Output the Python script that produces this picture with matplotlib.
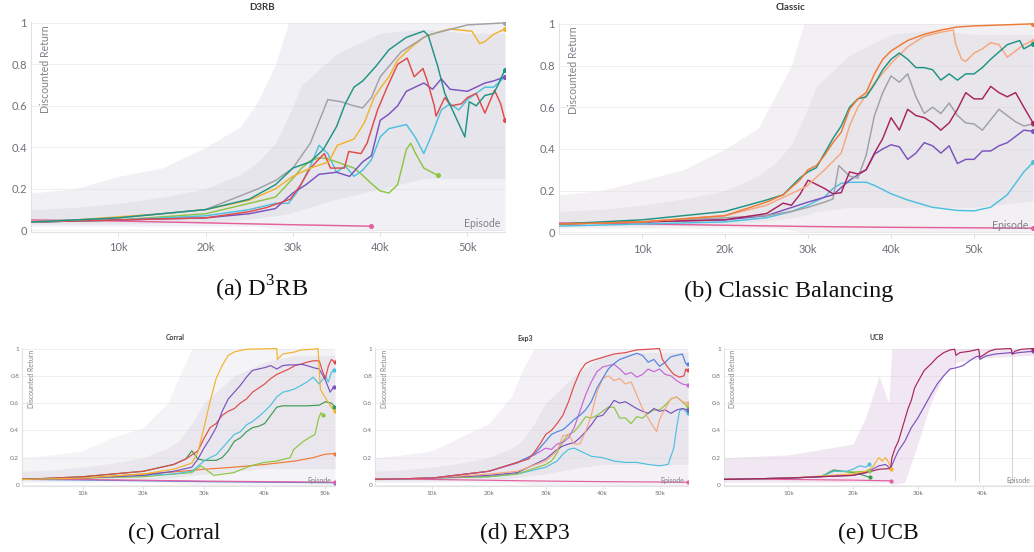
import numpy as np
import matplotlib
matplotlib.use("Agg")
import matplotlib.pyplot as plt

plt.rcParams["mathtext.fontset"] = "custom"
plt.rcParams["mathtext.rm"] = "Liberation Serif"

W, H = 1034, 552

# ---------------- colours ----------------
C_TEAL = "#1f9483"
C_GRAY = "#a0a0a8"
C_GOLD = "#f2b22c"
C_RED = "#e04a4a"
C_PURPLE = "#7b52be"
C_CYAN = "#4cc0de"
C_LIME = "#8cc540"
C_PINK = "#e4609c"
C_ORANGE = "#f07a34"
C_SALMON = "#f7a77c"
C_CRIMSON = "#a8245e"
C_BLUE = "#5083de"
C_ORCHID = "#c865d8"
C_GREEN = "#3c9a50"
C_FLATBLUE = "#5a7fe0"

# ---------------- (a) D3RB data (x in thousands of episodes) ----------------
d3rb_band_x = [0, 5, 10, 15, 20, 24, 26, 28, 29.5, 31, 35, 40, 45, 50, 54.3]
d3rb_band_hi = [0.18, 0.2, 0.26, 0.3, 0.4, 0.5, 0.62, 0.8, 1.0, 1.0, 1.0, 1.0, 1.0, 1.0, 1.0]
d3rb_band_lo = [0.02, 0.02, 0.02, 0.02, 0.02, 0.02, 0.02, 0.01, 0.0, 0.0, 0.0, 0.0, 0.0, 0.0, 0.0]
d3rb_core_hi = [0.1, 0.11, 0.13, 0.16, 0.2, 0.27, 0.33, 0.42, 0.55, 0.7, 0.85, 0.95, 0.97, 0.95, 0.95]
d3rb_core_lo = [0.03, 0.03, 0.03, 0.035, 0.04, 0.05, 0.06, 0.07, 0.08, 0.1, 0.15, 0.2, 0.25, 0.25, 0.25]

d3rb_gray_x = [0, 5, 10, 15, 20, 23, 26, 28, 30, 32, 34, 35.5, 37, 38, 39, 40, 42.4, 45.4, 50, 54.3]
d3rb_gray_y = [0.04, 0.05, 0.06, 0.08, 0.1, 0.15, 0.2, 0.24, 0.3, 0.42, 0.63, 0.62, 0.6, 0.59, 0.64, 0.74, 0.86, 0.94, 0.99, 1.0]
d3rb_teal_x = [0, 5, 10, 15, 20, 25, 28, 30, 32, 33.5, 35, 36, 37, 38, 39.5, 41, 43, 45, 45.5, 46.6, 47.4, 48.5, 49.7, 50.2, 51, 52, 53, 53.5, 54.3]
d3rb_teal_y = [0.04, 0.05, 0.06, 0.08, 0.1, 0.15, 0.22, 0.3, 0.33, 0.39, 0.5, 0.61, 0.69, 0.72, 0.79, 0.87, 0.93, 0.96, 0.94, 0.79, 0.66, 0.56, 0.45, 0.62, 0.6, 0.65, 0.66, 0.7, 0.775]
d3rb_gold_x = [0, 5, 10, 15, 20, 25, 28, 30, 32, 34.1, 35.1, 37, 38.2, 39.3, 40.1, 41, 42, 43.5, 45, 47, 48, 50.5, 51.4, 52, 53, 54.3]
d3rb_gold_y = [0.04, 0.05, 0.065, 0.08, 0.1, 0.145, 0.2, 0.26, 0.3, 0.33, 0.41, 0.44, 0.52, 0.64, 0.69, 0.74, 0.82, 0.88, 0.93, 0.96, 0.97, 0.96, 0.9, 0.91, 0.945, 0.97]
d3rb_red_x = [0, 10, 20, 25, 27, 29.7, 30.9, 32, 33.6, 34.3, 35.9, 36.4, 37.8, 38.5, 39.7, 40.8, 42, 43.1, 43.9, 44.9, 45.4, 46.2, 46.4, 47.4, 48.1, 49.3, 50, 51, 52, 53.1, 53.8, 54.3]
d3rb_red_y = [0.04, 0.05, 0.06, 0.09, 0.11, 0.15, 0.22, 0.3, 0.37, 0.3, 0.3, 0.38, 0.37, 0.42, 0.58, 0.69, 0.8, 0.83, 0.74, 0.78, 0.72, 0.6, 0.55, 0.64, 0.6, 0.61, 0.64, 0.66, 0.565, 0.675, 0.61, 0.53]
d3rb_purple_x = [0, 10, 20, 25, 28, 30, 31.5, 33, 35, 36.5, 38, 39, 40, 41, 42, 43, 45, 46, 47, 48, 50, 52, 53, 54.3]
d3rb_purple_y = [0.04, 0.05, 0.06, 0.08, 0.105, 0.18, 0.22, 0.27, 0.28, 0.26, 0.33, 0.36, 0.53, 0.56, 0.6, 0.67, 0.71, 0.68, 0.73, 0.68, 0.67, 0.71, 0.72, 0.74]
d3rb_cyan_x = [0, 10, 20, 25, 28, 29.5, 30.5, 32, 33, 34, 35, 36, 37, 38, 39, 40, 41, 42, 43, 44, 45, 46, 47, 48, 49, 50, 51, 52, 53, 54.3]
d3rb_cyan_y = [0.04, 0.05, 0.07, 0.1, 0.13, 0.13, 0.185, 0.31, 0.41, 0.37, 0.28, 0.31, 0.26, 0.29, 0.34, 0.45, 0.49, 0.5, 0.51, 0.45, 0.37, 0.47, 0.58, 0.61, 0.58, 0.63, 0.66, 0.69, 0.69, 0.74]
d3rb_lime_x = [0, 10, 20, 25, 28, 30, 31, 32, 33, 34, 35, 37, 38, 39, 40, 41, 42, 43, 43.5, 44, 45, 46.6]
d3rb_lime_y = [0.04, 0.05, 0.08, 0.13, 0.16, 0.25, 0.3, 0.335, 0.35, 0.345, 0.33, 0.3, 0.265, 0.225, 0.19, 0.18, 0.22, 0.39, 0.42, 0.375, 0.3, 0.265]
d3rb_pink_x = [0, 10, 20, 30, 38.9]
d3rb_pink_y = [0.05, 0.045, 0.036, 0.027, 0.02]

# ---------------- (b) Classic data ----------------
cls_band_x = [0, 5, 10, 15, 20, 24, 26, 28, 29.5, 31, 35, 40, 45, 50, 57.1]
cls_band_hi = [0.18, 0.2, 0.25, 0.3, 0.4, 0.5, 0.65, 0.8, 1.0, 1.0, 1.0, 1.0, 1.0, 1.0, 1.0]
cls_band_lo = [0.02, 0.02, 0.02, 0.02, 0.02, 0.02, 0.02, 0.01, 0.0, 0.0, 0.0, 0.0, 0.0, 0.0, 0.0]
cls_core_hi = [0.1, 0.11, 0.13, 0.16, 0.2, 0.27, 0.33, 0.42, 0.55, 0.7, 0.85, 0.95, 0.97, 0.95, 0.95]
cls_core_lo = [0.03, 0.03, 0.03, 0.035, 0.04, 0.05, 0.06, 0.07, 0.08, 0.1, 0.12, 0.12, 0.12, 0.12, 0.15]

cls_orange_x = [0, 10, 20, 25, 27, 29, 30, 31, 32, 33, 34, 35, 36, 37, 38, 39, 40, 42, 44, 46, 48, 50, 57.1]
cls_orange_y = [0.04, 0.05, 0.08, 0.145, 0.18, 0.25, 0.3, 0.32, 0.37, 0.43, 0.48, 0.59, 0.64, 0.67, 0.76, 0.83, 0.87, 0.92, 0.95, 0.97, 0.985, 0.99, 1.0]
cls_salmon_x = [0, 10, 20, 25, 29.8, 32, 34, 35, 36, 38, 40, 42, 44, 46, 47.5, 47.8, 48.5, 49, 50, 51, 52, 53, 54, 55, 56, 57.1]
cls_salmon_y = [0.04, 0.05, 0.08, 0.13, 0.22, 0.3, 0.38, 0.51, 0.6, 0.715, 0.81, 0.89, 0.94, 0.96, 0.97, 0.9, 0.83, 0.82, 0.86, 0.88, 0.91, 0.9, 0.84, 0.87, 0.9, 0.92]
cls_teal_x = [0, 10, 20, 25, 27, 29, 30, 31, 32, 33, 34, 35, 36, 37, 38, 39, 40, 41, 42, 43, 44, 45, 46, 47, 48, 49, 50, 51, 52, 53, 54, 55.5, 56, 57.1]
cls_teal_y = [0.04, 0.06, 0.1, 0.155, 0.18, 0.26, 0.29, 0.31, 0.38, 0.45, 0.51, 0.6, 0.64, 0.65, 0.71, 0.78, 0.83, 0.86, 0.83, 0.79, 0.79, 0.78, 0.73, 0.76, 0.73, 0.76, 0.76, 0.79, 0.83, 0.865, 0.9, 0.92, 0.88, 0.905]
cls_gray_x = [0, 10, 20, 25, 28, 30, 32, 33, 33.7, 35, 36, 37, 38, 39, 40, 41, 42, 43, 44, 45, 46, 47, 48, 49, 50, 51, 52, 53, 54, 55, 56, 57.1]
cls_gray_y = [0.04, 0.05, 0.07, 0.08, 0.1, 0.12, 0.145, 0.16, 0.32, 0.27, 0.26, 0.37, 0.56, 0.67, 0.75, 0.72, 0.76, 0.65, 0.57, 0.6, 0.57, 0.62, 0.56, 0.525, 0.52, 0.49, 0.54, 0.59, 0.56, 0.53, 0.51, 0.52]
cls_crimson_x = [0, 10, 20, 25, 27, 28, 29, 30, 31, 32, 33, 34, 35, 36, 37, 38, 39, 40, 41, 42, 43, 44, 45, 46, 47, 48, 49, 50, 51, 52, 53, 54, 55, 56, 57.1]
cls_crimson_y = [0.04, 0.05, 0.06, 0.09, 0.14, 0.13, 0.18, 0.25, 0.23, 0.21, 0.185, 0.19, 0.29, 0.28, 0.3, 0.38, 0.45, 0.55, 0.49, 0.59, 0.56, 0.55, 0.525, 0.49, 0.525, 0.59, 0.67, 0.64, 0.64, 0.7, 0.67, 0.65, 0.67, 0.6, 0.525]
cls_purple_x = [0, 10, 20, 25, 30, 33, 35, 37, 38, 39, 40, 41, 42, 43, 44, 45, 46, 47, 48, 49, 50, 51, 52, 53, 54, 55, 56, 57.1]
cls_purple_y = [0.04, 0.05, 0.06, 0.08, 0.145, 0.18, 0.25, 0.3, 0.375, 0.4, 0.42, 0.41, 0.35, 0.38, 0.43, 0.415, 0.38, 0.415, 0.33, 0.35, 0.35, 0.39, 0.39, 0.415, 0.43, 0.46, 0.49, 0.485]
cls_cyan_x = [0, 10, 20, 25, 28, 30, 32, 33, 34, 35, 37, 38, 40, 42, 45, 48, 50, 52, 54, 56, 57.1]
cls_cyan_y = [0.03, 0.04, 0.05, 0.07, 0.1, 0.13, 0.17, 0.21, 0.235, 0.24, 0.24, 0.225, 0.185, 0.155, 0.12, 0.105, 0.103, 0.12, 0.18, 0.29, 0.335]
cls_pink_x = [0, 10, 20, 30, 40, 57.1]
cls_pink_y = [0.045, 0.04, 0.034, 0.028, 0.024, 0.02]

# ---------------- (c) Corral data ----------------
cor_band_x = [0, 5, 10, 15, 20, 24, 26, 28, 30, 35, 40, 45, 51.6]
cor_band_hi = [0.2, 0.22, 0.25, 0.35, 0.42, 0.6, 0.8, 1.0, 1.0, 1.0, 1.0, 1.0, 1.0]
cor_band_lo = [0.02, 0.02, 0.02, 0.02, 0.02, 0.02, 0.01, 0.0, 0.0, 0.0, 0.0, 0.0, 0.0]
cor_core_hi = [0.1, 0.11, 0.13, 0.16, 0.2, 0.27, 0.33, 0.45, 0.6, 0.8, 0.9, 0.95, 0.95]
cor_core_lo = [0.03, 0.03, 0.03, 0.035, 0.04, 0.05, 0.06, 0.07, 0.08, 0.1, 0.12, 0.12, 0.12]

cor_gold_x = [0, 10, 20, 25, 28, 29, 30, 31, 32, 33, 34, 35, 37, 42, 42.1, 43, 45, 46, 48, 48.8, 49.2, 50, 51, 51.6]
cor_gold_y = [0.04, 0.05, 0.08, 0.115, 0.16, 0.24, 0.42, 0.61, 0.78, 0.875, 0.95, 0.975, 0.995, 1.0, 0.92, 0.96, 0.975, 0.99, 0.995, 1.0, 0.7, 0.64, 0.57, 0.54]
cor_purple_x = [0, 10, 20, 25, 28, 29, 30, 31, 32, 33, 34, 35, 36, 37, 38, 39, 40, 41, 42, 43, 44, 45, 46, 47, 48, 49, 50, 50.8, 51.4]
cor_purple_y = [0.04, 0.05, 0.07, 0.1, 0.13, 0.19, 0.27, 0.34, 0.42, 0.54, 0.63, 0.68, 0.73, 0.79, 0.84, 0.85, 0.86, 0.875, 0.85, 0.875, 0.88, 0.88, 0.885, 0.875, 0.86, 0.85, 0.77, 0.68, 0.72]
cor_red_x = [0, 10, 20, 25, 27, 28, 29, 30, 31, 32, 33, 34, 35, 36, 37, 38, 39, 40, 41, 42, 43, 44, 45, 46, 47, 48, 49, 49.5, 50, 50.5, 51, 51.6]
cor_red_y = [0.04, 0.06, 0.1, 0.15, 0.19, 0.22, 0.25, 0.34, 0.42, 0.45, 0.51, 0.54, 0.56, 0.6, 0.63, 0.68, 0.71, 0.74, 0.78, 0.81, 0.83, 0.85, 0.875, 0.885, 0.9, 0.91, 0.91, 0.84, 0.78, 0.87, 0.92, 0.9]
cor_cyan_x = [0, 10, 20, 25, 28, 30, 31, 32, 33, 34, 35, 36, 37, 38, 39, 40, 41, 42, 43, 44, 45, 46, 47, 48, 49, 50, 50.5, 51, 51.5]
cor_cyan_y = [0.04, 0.05, 0.07, 0.08, 0.1, 0.175, 0.2, 0.22, 0.27, 0.32, 0.37, 0.39, 0.44, 0.465, 0.5, 0.54, 0.585, 0.645, 0.68, 0.69, 0.705, 0.73, 0.755, 0.79, 0.74, 0.8, 0.755, 0.825, 0.84]
cor_green_x = [0, 10, 20, 25, 27, 28, 29, 30, 32, 33, 34, 35, 36, 37, 38, 39, 40, 41, 42, 43, 45, 47, 49, 50, 51, 51.5]
cor_green_y = [0.04, 0.06, 0.1, 0.15, 0.19, 0.25, 0.19, 0.18, 0.18, 0.2, 0.25, 0.32, 0.345, 0.39, 0.42, 0.43, 0.45, 0.51, 0.57, 0.58, 0.58, 0.58, 0.585, 0.61, 0.6, 0.575]
cor_lime_x = [0, 10, 20, 25, 28, 29.5, 31.6, 34.9, 37.7, 39.9, 42, 44.2, 44.8, 46.4, 47.5, 48.3, 48.9, 49.3, 49.7]
cor_lime_y = [0.04, 0.05, 0.06, 0.08, 0.09, 0.14, 0.07, 0.09, 0.14, 0.165, 0.175, 0.2, 0.26, 0.32, 0.35, 0.37, 0.49, 0.53, 0.51]
cor_orange_x = [0, 10, 20, 25, 30, 35, 40, 45, 48, 50, 51.6]
cor_orange_y = [0.04, 0.05, 0.08, 0.095, 0.115, 0.13, 0.15, 0.175, 0.2, 0.225, 0.23]
cor_flat_x = [0, 10, 20, 30, 40, 51.6]
cor_flat_y = [0.045, 0.04, 0.034, 0.028, 0.024, 0.02]

# ---------------- (d) Exp3 data ----------------
exp_band_x = [0, 5, 10, 15, 20, 24, 26, 28, 30, 35, 40, 45, 55]
exp_band_hi = [0.2, 0.22, 0.25, 0.35, 0.45, 0.65, 0.85, 1.0, 1.0, 1.0, 1.0, 1.0, 1.0]
exp_band_lo = [0.02, 0.02, 0.02, 0.02, 0.02, 0.02, 0.01, 0.0, 0.0, 0.0, 0.0, 0.0, 0.0]
exp_core_hi = [0.1, 0.11, 0.13, 0.16, 0.2, 0.27, 0.33, 0.45, 0.6, 0.8, 0.95, 0.97, 0.97]
exp_core_lo = [0.03, 0.03, 0.03, 0.035, 0.04, 0.05, 0.06, 0.07, 0.08, 0.12, 0.15, 0.15, 0.15]

exp_red_x = [0, 10, 20, 25, 27, 28, 29, 30, 31, 32, 33, 34, 35, 36, 37, 38, 40, 42, 44, 46, 50, 50.5, 51.5, 52.5, 53.5, 54.3, 54.6, 55]
exp_red_y = [0.04, 0.05, 0.1, 0.165, 0.19, 0.24, 0.3, 0.37, 0.4, 0.45, 0.51, 0.61, 0.73, 0.83, 0.89, 0.91, 0.935, 0.96, 0.97, 0.99, 1.0, 0.92, 0.86, 0.81, 0.79, 0.8, 0.85, 0.84]
exp_blue_x = [0, 10, 20, 25, 28, 30, 31, 32, 33, 34, 35, 36, 37, 38, 39, 40, 41, 42, 43, 45, 46, 47, 48, 49, 50, 51, 52, 53, 54, 54.6, 55]
exp_blue_y = [0.04, 0.05, 0.1, 0.165, 0.225, 0.32, 0.37, 0.39, 0.405, 0.44, 0.48, 0.51, 0.55, 0.61, 0.71, 0.78, 0.85, 0.89, 0.92, 0.95, 0.965, 0.95, 0.9, 0.92, 0.87, 0.9, 0.94, 0.95, 0.96, 0.89, 0.885]
exp_orchid_x = [0, 10, 20, 25, 28, 30, 31, 32, 33, 34, 35, 36, 37, 38, 39, 40, 41, 42, 43, 44, 45, 46, 47, 48, 49, 50, 51, 52, 53, 54, 55]
exp_orchid_y = [0.04, 0.05, 0.1, 0.16, 0.22, 0.27, 0.26, 0.3, 0.31, 0.345, 0.42, 0.54, 0.66, 0.755, 0.83, 0.865, 0.875, 0.885, 0.85, 0.81, 0.825, 0.79, 0.81, 0.85, 0.83, 0.85, 0.81, 0.8, 0.765, 0.74, 0.73]
exp_salmon_x = [0, 10, 20, 25, 30, 32, 33, 34, 35, 36, 37, 38, 39, 40, 41, 42, 43, 44, 45, 46, 47, 48, 49, 49.5, 50, 51, 52, 53, 54, 55]
exp_salmon_y = [0.04, 0.05, 0.08, 0.1, 0.175, 0.25, 0.36, 0.37, 0.3, 0.3, 0.39, 0.51, 0.68, 0.78, 0.8, 0.765, 0.78, 0.74, 0.755, 0.66, 0.56, 0.49, 0.42, 0.39, 0.48, 0.56, 0.63, 0.645, 0.61, 0.6]
exp_purple_x = [0, 10, 20, 25, 30, 32, 33, 34, 35, 36, 37, 38, 39, 40, 41, 42, 43, 44, 45, 46, 47, 48, 49, 50, 51, 52, 53, 54, 55]
exp_purple_y = [0.04, 0.05, 0.07, 0.09, 0.19, 0.26, 0.285, 0.3, 0.31, 0.345, 0.39, 0.44, 0.5, 0.51, 0.56, 0.62, 0.6, 0.61, 0.585, 0.56, 0.54, 0.525, 0.56, 0.54, 0.55, 0.525, 0.55, 0.56, 0.55]
exp_lime_x = [0, 10, 20, 25, 30, 31, 32, 33, 34, 35, 36, 37, 38, 39, 40, 41, 42, 43, 44, 45, 46, 47, 48, 49, 50, 51, 52, 53, 54, 55]
exp_lime_y = [0.04, 0.05, 0.06, 0.08, 0.15, 0.175, 0.235, 0.32, 0.37, 0.39, 0.44, 0.5, 0.49, 0.51, 0.54, 0.57, 0.57, 0.49, 0.49, 0.45, 0.5, 0.49, 0.525, 0.55, 0.55, 0.585, 0.63, 0.645, 0.61, 0.57]
exp_cyan_x = [0, 10, 20, 25, 30, 32, 33, 34, 35, 36, 38, 40, 42, 44, 46, 48, 50, 51.5, 52.5, 53, 53.5, 54, 55]
exp_cyan_y = [0.04, 0.05, 0.06, 0.08, 0.13, 0.175, 0.225, 0.26, 0.27, 0.25, 0.21, 0.2, 0.175, 0.165, 0.165, 0.15, 0.14, 0.15, 0.27, 0.42, 0.54, 0.56, 0.525]
exp_pink_x = [0, 10, 20, 30, 40, 55]
exp_pink_y = [0.045, 0.04, 0.034, 0.028, 0.024, 0.02]

# ---------------- (e) UCB data ----------------
ucb_band_x = [0, 10, 20, 22, 24, 25.5, 26, 28, 30, 32, 34, 36, 40, 47.8]
ucb_band_hi = [0.2, 0.22, 0.3, 0.5, 0.8, 0.6, 1.0, 1.0, 1.0, 1.0, 1.0, 1.0, 1.0, 1.0]
ucb_band_lo = [0.02, 0.02, 0.02, 0.02, 0.02, 0.02, 0.0, 0.02, 0.3, 0.6, 0.8, 0.9, 0.93, 0.95]
ucb_dip_x = [35.7, 39.5, 44.5]
ucb_dip_lo = [0.03, 0.02, 0.03]

ucb_crimson_x = [0, 10, 15, 20, 22, 24, 25.8, 26, 26.5, 27, 27.5, 28, 28.5, 29, 29.5, 30, 31, 32, 33, 34, 35, 35.7, 35.9, 36.5, 38, 39.4, 39.6, 41, 42, 44.4, 44.6, 45, 46, 47.8]
ucb_crimson_y = [0.04, 0.05, 0.06, 0.07, 0.09, 0.115, 0.12, 0.2, 0.27, 0.32, 0.4, 0.48, 0.56, 0.62, 0.71, 0.755, 0.84, 0.885, 0.935, 0.97, 0.99, 0.995, 0.95, 0.97, 0.98, 0.995, 0.935, 0.98, 0.995, 1.0, 0.96, 0.98, 0.995, 1.0]
ucb_purple_x = [0, 10, 20, 22, 24, 25, 25.8, 26.5, 27, 28, 29, 30, 31, 32, 33, 34, 35, 36, 37, 38, 39, 39.4, 39.6, 40.5, 42, 44.4, 44.6, 45.5, 47.8]
ucb_purple_y = [0.04, 0.05, 0.07, 0.09, 0.14, 0.15, 0.12, 0.2, 0.25, 0.32, 0.42, 0.49, 0.575, 0.66, 0.74, 0.8, 0.85, 0.86, 0.875, 0.91, 0.94, 0.945, 0.92, 0.945, 0.96, 0.97, 0.96, 0.97, 0.98]
ucb_gold_x = [0, 10, 20, 22, 23, 24, 24.5, 25, 25.5, 25.9]
ucb_gold_y = [0.04, 0.05, 0.08, 0.1, 0.13, 0.2, 0.175, 0.2, 0.165, 0.12]
ucb_cyan_x = [0, 10, 15, 17, 19, 20, 21, 22, 22.5]
ucb_cyan_y = [0.04, 0.05, 0.06, 0.1, 0.1, 0.115, 0.14, 0.13, 0.15]
ucb_green_x = [0, 10, 15, 17, 20, 21, 22.6]
ucb_green_y = [0.04, 0.05, 0.06, 0.11, 0.09, 0.08, 0.055]
ucb_lime_x = [0, 10, 15, 17, 20, 22.5]
ucb_lime_y = [0.04, 0.05, 0.06, 0.1, 0.095, 0.1]
ucb_pink_x = [0, 10, 20, 25.8]
ucb_pink_y = [0.045, 0.04, 0.035, 0.03]

y_ticks = [0, 0.2, 0.4, 0.6, 0.8, 1.0]
y_tick_labels = ["0", "0.2", "0.4", "0.6", "0.8", "1"]
x_ticks = [10, 20, 30, 40, 50]
x_tick_labels = ["10k", "20k", "30k", "40k", "50k"]

# ---------------- drawing ----------------
fig = plt.figure(figsize=(W / 100, H / 100), dpi=100)
SANS = "Lato"


def px_axes(left, top, right, bottom):
    return fig.add_axes([left / W, 1 - bottom / H, (right - left) / W, (bottom - top) / H])


def setup(ax, xmax, big):
    ts = 8 if big else 4.6
    ls = 7.6 if big else 5.0
    ax.set_yticks(y_ticks)
    ax.set_yticklabels(y_tick_labels, fontsize=ts, color="#70707a", family=SANS)
    ticks = [t for t in x_ticks if t <= xmax]
    labels = [l for t, l in zip(x_ticks, x_tick_labels) if t <= xmax]
    ax.set_xticks(ticks)
    ax.set_xticklabels(labels, fontsize=ts, color="#70707a", family=SANS)
    ax.set_xlim(0, xmax)
    ax.set_ylim(-0.008, 1.004)
    ax.tick_params(axis="y", length=0, pad=3 if big else 2)
    ax.tick_params(axis="x", length=3 if big else 2, color="#d8d8d8", width=0.6,
                   pad=4 if big else 1.5)
    for s in ["top", "right"]:
        ax.spines[s].set_visible(False)
    for s in ["left", "bottom"]:
        ax.spines[s].set_color("#e2e2e2")
        ax.spines[s].set_linewidth(0.8)
    ax.grid(axis="y", color="#ececec", linewidth=0.6)
    ax.set_axisbelow(True)
    ax.text(0.018, 0.985, "Discounted Return", rotation=90, transform=ax.transAxes,
            va="top", ha="left", fontsize=ls, color="#80808a", family=SANS)
    ax.text(0.99, 0.012, "Episode", transform=ax.transAxes, va="bottom", ha="right",
            fontsize=ls, color="#80808a", family=SANS, zorder=5)


def bands(ax, bx, blo, bhi, clo=None, chi=None, color="#dcd8e6", core="#d0ccda"):
    ax.fill_between(bx, blo, bhi, color=color, alpha=0.38, linewidth=0, zorder=1)
    if clo is not None:
        ax.fill_between(bx, clo, chi, color=core, alpha=0.3, linewidth=0, zorder=1)


def line(ax, x, y, c, lw):
    ax.plot(x, y, color=c, lw=lw, zorder=3, solid_joinstyle="round")
    ax.plot([x[-1]], [y[-1]], "o", color=c, ms=2.6 if lw > 1 else 2.0, zorder=4)


# (a) D3RB
ax = px_axes(31, 22, 505, 232)
setup(ax, 54.3, True)
bands(ax, d3rb_band_x, d3rb_band_lo, d3rb_band_hi, d3rb_core_lo, d3rb_core_hi)
lw = 1.05
line(ax, d3rb_pink_x, d3rb_pink_y, C_PINK, lw)
line(ax, d3rb_lime_x, d3rb_lime_y, C_LIME, lw)
line(ax, d3rb_cyan_x, d3rb_cyan_y, C_CYAN, lw)
line(ax, d3rb_purple_x, d3rb_purple_y, C_PURPLE, lw)
line(ax, d3rb_red_x, d3rb_red_y, C_RED, lw)
line(ax, d3rb_gold_x, d3rb_gold_y, C_GOLD, lw)
line(ax, d3rb_gray_x, d3rb_gray_y, C_GRAY, lw)
line(ax, d3rb_teal_x, d3rb_teal_y, C_TEAL, lw)

# (b) Classic
ax = px_axes(559, 23, 1033, 234)
setup(ax, 57.1, True)
bands(ax, cls_band_x, cls_band_lo, cls_band_hi, cls_core_lo, cls_core_hi, color="#e2d8e2")
line(ax, cls_pink_x, cls_pink_y, C_PINK, lw)
line(ax, cls_cyan_x, cls_cyan_y, C_CYAN, lw)
line(ax, cls_purple_x, cls_purple_y, C_PURPLE, lw)
line(ax, cls_gray_x, cls_gray_y, C_GRAY, lw)
line(ax, cls_crimson_x, cls_crimson_y, C_CRIMSON, lw)
line(ax, cls_salmon_x, cls_salmon_y, C_SALMON, lw)
line(ax, cls_teal_x, cls_teal_y, C_TEAL, lw)
line(ax, cls_orange_x, cls_orange_y, C_ORANGE, lw)

lw2 = 0.85
# (c) Corral
ax = px_axes(22, 348, 335, 486)
setup(ax, 51.6, False)
bands(ax, cor_band_x, cor_band_lo, cor_band_hi, cor_core_lo, cor_core_hi, color="#e4e0e8")
line(ax, cor_flat_x, [v - 0.004 for v in cor_flat_y], C_FLATBLUE, lw2)
line(ax, cor_flat_x, cor_flat_y, C_PINK, lw2)
line(ax, cor_orange_x, cor_orange_y, C_ORANGE, lw2)
line(ax, cor_lime_x, cor_lime_y, C_LIME, lw2)
line(ax, cor_green_x, cor_green_y, C_GREEN, lw2)
line(ax, cor_cyan_x, cor_cyan_y, C_CYAN, lw2)
line(ax, cor_red_x, cor_red_y, C_RED, lw2)
line(ax, cor_purple_x, cor_purple_y, C_PURPLE, lw2)
line(ax, cor_gold_x, cor_gold_y, C_GOLD, lw2)

# (d) Exp3
ax = px_axes(375, 348, 688, 486)
setup(ax, 55, False)
bands(ax, exp_band_x, exp_band_lo, exp_band_hi, exp_core_lo, exp_core_hi, color="#e2dae8")
line(ax, exp_pink_x, exp_pink_y, C_PINK, lw2)
line(ax, exp_cyan_x, exp_cyan_y, C_CYAN, lw2)
line(ax, exp_lime_x, exp_lime_y, C_LIME, lw2)
line(ax, exp_purple_x, exp_purple_y, C_PURPLE, lw2)
line(ax, exp_salmon_x, exp_salmon_y, C_SALMON, lw2)
line(ax, exp_orchid_x, exp_orchid_y, C_ORCHID, lw2)
line(ax, exp_blue_x, exp_blue_y, C_BLUE, lw2)
line(ax, exp_red_x, exp_red_y, C_RED, lw2)

# (e) UCB
ax = px_axes(723.6, 348, 1033, 486)
setup(ax, 47.8, False)
bands(ax, ucb_band_x, ucb_band_lo, ucb_band_hi, color="#dcc2de")
ax.vlines(ucb_dip_x, ucb_dip_lo, 1.0, color="#dcc4d8", lw=0.6, zorder=2)
line(ax, ucb_pink_x, ucb_pink_y, C_PINK, lw2)
line(ax, ucb_green_x, ucb_green_y, C_GREEN, lw2)
line(ax, ucb_lime_x, ucb_lime_y, C_LIME, lw2)
line(ax, ucb_cyan_x, ucb_cyan_y, C_CYAN, lw2)
line(ax, ucb_gold_x, ucb_gold_y, C_GOLD, lw2)
line(ax, ucb_purple_x, ucb_purple_y, C_PURPLE, lw2)
line(ax, ucb_crimson_x, ucb_crimson_y, C_CRIMSON, lw2)


def ptext(x, y, s, **kw):
    fig.text(x / W, 1 - y / H, s, **kw)


# titles
ptext(262, 7, "D3RB", ha="center", va="center", fontsize=7, fontweight="bold", color="#3a3a3a", family=SANS)
ptext(790, 7, "Classic", ha="center", va="center", fontsize=7, fontweight="bold", color="#3a3a3a", family=SANS)
ptext(175, 338, "Corral", ha="center", va="center", fontsize=5, fontweight="bold", color="#3a3a3a", family=SANS)
ptext(525, 338, "Exp3", ha="center", va="center", fontsize=5, fontweight="bold", color="#3a3a3a", family=SANS)
ptext(877, 338, "UCB", ha="center", va="center", fontsize=5, fontweight="bold", color="#3a3a3a", family=SANS)

# captions
SERIF = "Liberation Serif"
ptext(262, 297, r"(a) D$^\mathrm{3}$RB", ha="center", va="baseline", fontsize=17.5, family=SERIF, color="#111111")
ptext(789, 297, "(b) Classic Balancing", ha="center", va="baseline", fontsize=17.5, family=SERIF, color="#111111")
ptext(174, 539, "(c) Corral", ha="center", va="baseline", fontsize=17, family=SERIF, color="#111111")
ptext(525, 539, "(d) EXP3", ha="center", va="baseline", fontsize=17, family=SERIF, color="#111111")
ptext(878, 539, "(e) UCB", ha="center", va="baseline", fontsize=17, family=SERIF, color="#111111")

fig.savefig("out.png", dpi=100)
